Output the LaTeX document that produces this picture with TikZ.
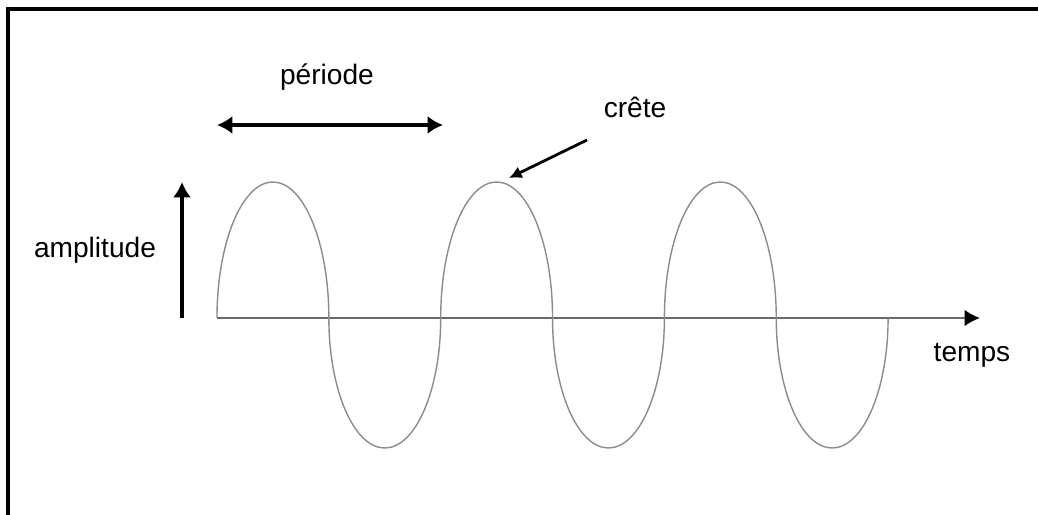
\documentclass[tikz,border=0pt]{standalone}
\usepackage{fontspec}
\setmainfont{Liberation Sans}
\usepackage{xcolor}
\usetikzlibrary{arrows.meta}
\definecolor{waveGray}{HTML}{8C8C8C}
\definecolor{axisGray}{HTML}{6A6A6A}

\begin{document}
\begin{tikzpicture}[
    label text/.style={font=\fontsize{20}{24}\selectfont, inner sep=0pt},
    big arrow/.style={line width=3pt, >={Latex[length=11pt, width=13pt]}}
]
    \useasboundingbox (-5.425, -4.925) rectangle (20.525, 7.95);
    \fill[white] (-5.425, -4.925) rectangle (20.525, 7.95);

    % frame (only top and left edges show)
    \draw[line width=2.2pt] (-5.225, -4.925) -- (-5.225, 7.725) -- (20.525, 7.725);

    % time axis
    \coordinate (o) at (0, 0);
    \coordinate (tEnd) at (19.075, 0);
    \draw[line width=1.6pt, axisGray, -{Latex[length=11pt, width=12pt, black]}] (o) -- (tEnd);
    \node[label text] (temps) at (18.875, -0.925) {temps};

    % the wave: three periods of half-ellipse lobes
    \foreach \k in {0, 1, 2}
        \draw[waveGray, line width=1pt] (5.5925*\k, 0)
            arc[start angle=180, end angle=0, x radius=1.3981, y radius=3.4]
            arc[start angle=180, end angle=360, x radius=1.3981, y radius=3.25];

    % period
    \coordinate (pA) at (0, 4.825);
    \coordinate (pB) at (5.65, 4.825);
    \draw[big arrow, <->] (pA) -- (pB);
    \node[label text] (periode) at (2.75, 6.025) {période};

    % amplitude
    \coordinate (aLow) at (-0.875, 0.0);
    \coordinate (aHigh) at (-0.875, 3.4);
    \draw[big arrow, ->] (aLow) -- (aHigh);
    \node[label text] (ampl) at (-3.05, 1.7) {amplitude};

    % crest
    \node[label text] (crete) at (10.45, 5.275) {crête};
    \coordinate (peak) at (7.3, 3.5);
    \coordinate (creteFoot) at (9.25, 4.45);
    \draw[line width=2pt, -{Latex[length=9pt, width=9pt]}] (creteFoot) -- (peak);
\end{tikzpicture}
\end{document}
